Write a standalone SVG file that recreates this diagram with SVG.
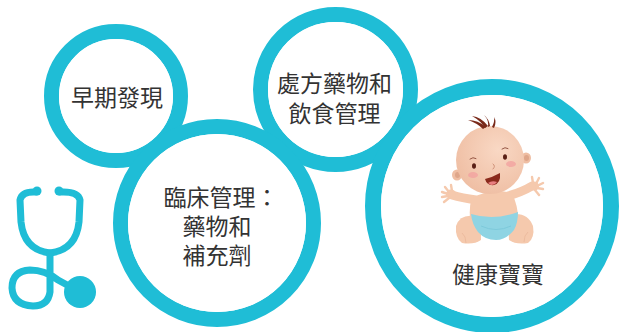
<svg xmlns="http://www.w3.org/2000/svg" width="621" height="332" viewBox="0 0 621 332">
  <style>
    .ring { fill: none; stroke: #1fbdd6; }
    .hole { fill: #ffffff; }
    .label { font-family: "Noto Sans CJK TC", "Noto Sans CJK SC", "Liberation Sans", sans-serif; font-size: 23px; fill: #333333; text-anchor: middle; }
    .skin { fill: #f5c9ad; }
    .skinline { stroke: #f5c9ad; stroke-linecap: round; fill: none; }
    .scope { fill: none; stroke: #1fbdd6; stroke-width: 7; stroke-linecap: round; stroke-linejoin: round; }
  </style>
  <defs>
    <radialGradient id="headShade" cx="0.62" cy="0.35" r="0.7">
      <stop offset="0" stop-color="#f9d8c4"/>
      <stop offset="1" stop-color="#efbea3"/>
    </radialGradient>
  </defs>

  <rect width="621" height="332" fill="#ffffff"/>

  <!-- connecting rings: all strokes first, the white holes of each node sit on top -->
  <g id="connectors">
    <circle class="ring" cx="116" cy="96" r="64.5" stroke-width="15"/>
    <circle class="ring" cx="335.5" cy="89.5" r="75" stroke-width="15"/>
    <circle class="ring" cx="217" cy="223" r="96.5" stroke-width="15"/>
    <circle class="ring" cx="492" cy="206" r="119" stroke-width="16"/>
  </g>

  <g id="node-early">
    <circle class="hole" cx="116" cy="96" r="57"/>
    <text class="label" x="117" y="106">早期發現</text>
  </g>

  <g id="node-diet">
    <circle class="hole" cx="335.5" cy="89.5" r="67.5"/>
    <text class="label" x="334.5" y="92">處方藥物和</text>
    <text class="label" x="334.5" y="122">飲食管理</text>
  </g>

  <g id="node-clinical">
    <circle class="hole" cx="217" cy="223" r="89"/>
    <text class="label" x="221" y="206">臨床管理：</text>
    <text class="label" x="217" y="235">藥物和</text>
    <text class="label" x="217" y="264">補充劑</text>
  </g>

  <g id="node-baby">
    <circle class="hole" cx="492" cy="206" r="111"/>
    <text class="label" x="498" y="283">健康寶寶</text>

    <!-- baby -->
    <g id="baby">
      <!-- arms -->
      <path class="skinline" d="M476,200 Q462,198 452,195" stroke-width="9"/>
      <path class="skinline" d="M508,196 Q522,192 532,186" stroke-width="9"/>
      <g class="skin">
        <ellipse cx="451" cy="194" rx="5" ry="4.5"/>
        <ellipse cx="534" cy="186" rx="5" ry="4.5"/>
      </g>
      <g class="skinline" stroke-width="2.4">
        <path d="M449,192 l-4,-5"/>
        <path d="M448,194 l-6,-2"/>
        <path d="M448,196 l-6,1"/>
        <path d="M449,198 l-5,4"/>
        <path d="M452,191 l-1,-6"/>
        <path d="M536,184 l3,-6"/>
        <path d="M537,186 l6,-3"/>
        <path d="M537,188 l6,1"/>
        <path d="M535,190 l4,5"/>
        <path d="M533,183 l-1,-6"/>
      </g>
      <!-- torso -->
      <path class="skin" d="M472,198 Q491,188 512,193 Q518,206 518,218 Q494,226 470,218 Q469,206 472,198 Z"/>
      <!-- legs and feet -->
      <path class="skin" d="M474,216 Q460,214 456,226 Q455,238 462,243 Q474,245 481,240 Q482,228 474,216 Z"/>
      <path class="skin" d="M514,214 Q528,213 533,226 Q535,238 528,243 Q516,245 509,240 Q508,228 514,214 Z"/>
      <path d="M462,233 q4,3 4,10 M528,232 q-4,3 -4,10" stroke="#eab79b" stroke-width="0.8" fill="none"/>
      <!-- diaper -->
      <path d="M471,214 Q494,221 518,212 Q518,223 514,230 Q506,240 496,240 Q485,240 478,232 Q472,224 471,214 Z" fill="#8fd4e3"/>
      <path d="M481,226 Q496,233 511,226" stroke="#79c6d8" stroke-width="0.8" fill="none"/>
      <!-- ears -->
      <ellipse cx="457" cy="175" rx="5" ry="5.5" fill="#efbea3"/>
      <ellipse cx="457.5" cy="175" rx="2.5" ry="3" fill="#dfa68a"/>
      <ellipse cx="526" cy="158" rx="5" ry="5.5" fill="#efbea3"/>
      <ellipse cx="526.5" cy="158" rx="2.5" ry="3" fill="#dfa68a"/>
      <!-- head -->
      <circle cx="490" cy="160" r="34" fill="url(#headShade)"/>
      <!-- hair -->
      <g fill="#7a2a1a">
        <path d="M486,127 Q478,120 468,120 Q477,123 483,129 Z"/>
        <path d="M488,126 Q481,117 472,116 Q481,121 485,128 Z"/>
        <path d="M490,126 Q489,119 484,115 Q489,120 488,127 Z"/>
        <path d="M492,127 Q495,121 494,117 Q497,122 494,128 Z"/>
      </g>
      <!-- eyebrows -->
      <path d="M470,159 q3,-2.5 6,-0.5 M502,149 q3,-2.5 6,-0.5" stroke="#8a4a38" stroke-width="0.9" fill="none" stroke-linecap="round"/>
      <!-- eyes -->
      <ellipse cx="474" cy="166" rx="2" ry="2.8" fill="#5a2016"/>
      <ellipse cx="505" cy="157" rx="2" ry="2.8" fill="#5a2016"/>
      <!-- cheeks -->
      <ellipse cx="473" cy="175" rx="5" ry="3" fill="#f3a3a0" opacity="0.8"/>
      <ellipse cx="511" cy="164" rx="5" ry="3" fill="#f3a3a0" opacity="0.8"/>
      <!-- nose -->
      <path d="M493,164 q3,2 0,5" stroke="#c98a70" stroke-width="0.9" fill="none" stroke-linecap="round"/>
      <!-- mouth -->
      <path d="M485,179 Q493,177 500,173 Q501,183 494,185 Q487,186 485,179 Z" fill="#8a2a1c"/>
      <path d="M488,183 Q492,180 497,182 Q495,185 491,185 Z" fill="#e97f80"/>
    </g>
  </g>

  <!-- stethoscope -->
  <g id="stethoscope">
    <path class="scope" d="M36,192 Q22,191 20,200 L21,222 Q24,250 50,253 Q76,250 79,222 L80,200 Q78,191 60,192"/>
    <path class="scope" d="M50,253 L50,292 Q48,306 33,306 Q13,305 12,288 Q12,271 30,270 Q45,270 58,280 L80,292"/>
    <circle cx="37" cy="191" r="4.5" fill="#1fbdd6"/>
    <circle cx="59" cy="191" r="4.5" fill="#1fbdd6"/>
    <circle cx="80" cy="292" r="16" fill="#1fbdd6"/>
  </g>
</svg>
